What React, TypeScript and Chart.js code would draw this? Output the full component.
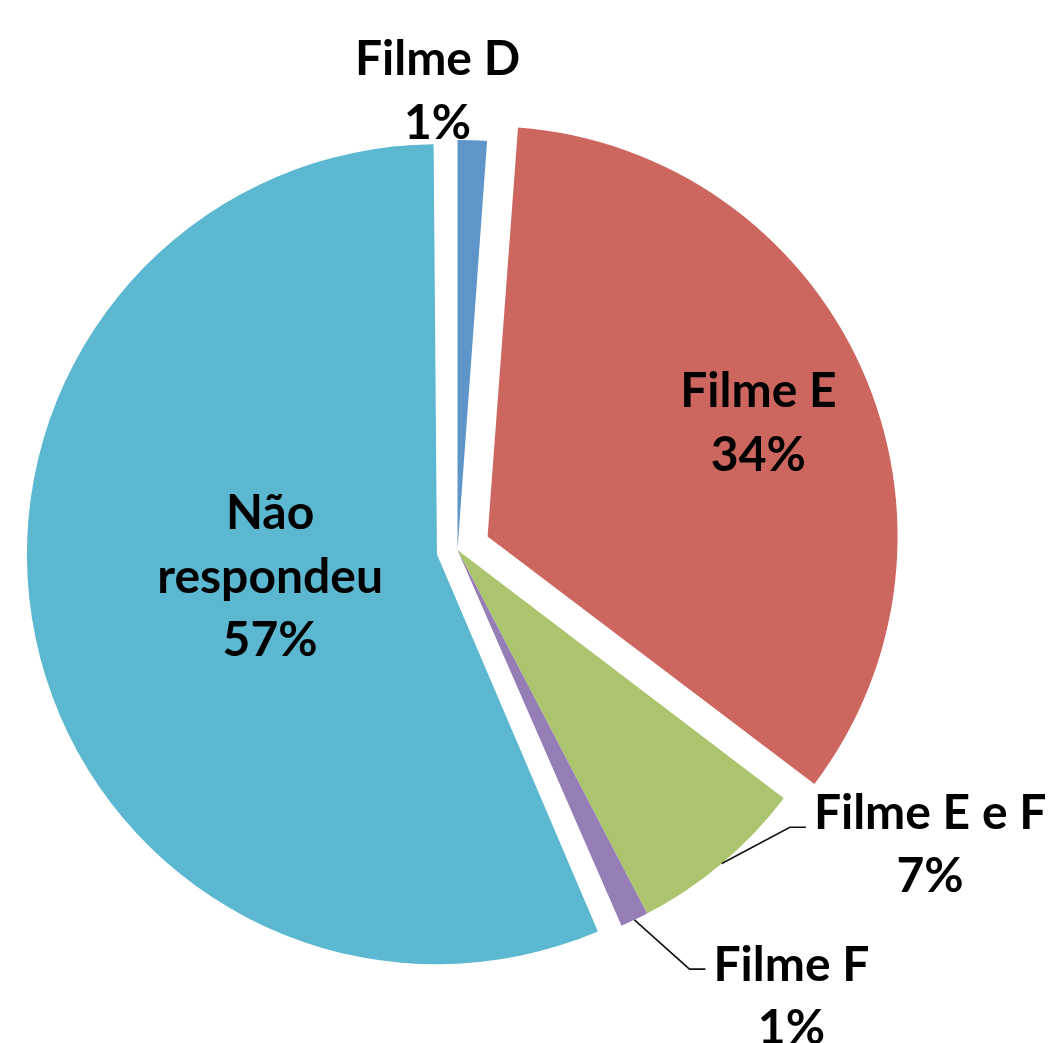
import React, { useEffect, useRef } from "react";
import { Chart, registerables } from "chart.js";

Chart.register(...registerables);

// ---- data ----
const categories = ["Filme D", "Filme E", "Filme E e F", "Filme F", "Não respondeu"];
const categoryLines = [["Filme D"], ["Filme E"], ["Filme E e F"], ["Filme F"], ["Não", "respondeu"]];
const values = [1.15, 34.2, 7.0, 1.1, 56.55];
const colors = ["#5F95C8", "#CD665F", "#ABC46D", "#957DB5", "#5BB8D0"];
const explode = [0, 33, 0, 0, 21]; // visual translation of exploded slices (px)

// label placement: angle delta from slice mid (deg), distance as fraction of radius
const labelAngleDelta = [-4.65, 4.08, -16.57, -10.28, -1.13];
const labelRadius = [1.082, 0.782, 1.379, 1.391, 0.469];
const labelLeader = [false, false, true, true, false];
const leaderDy = [0, 0, -1.3, -11.4, 0];

const RADIUS = 410;
const FONT = "bold 48px Lato, Carlito, Calibri, sans-serif";
const LINE_H = 63.5;

const labelPlugin = {
  id: "pieLabels",
  afterDatasetUpdate(chart: any, args: any) {
    const meta = args.meta;
    const base = meta.controller.outerRadius;
    meta.data.forEach((arc: any, i: number) => {
      const o = explode[i] || 0;
      if (!o) return;
      const circ = arc.endAngle - arc.startAngle;
      const fix = 1 - Math.sin(Math.min(Math.PI, circ));
      arc.outerRadius = base - o * fix;
    });
  },
  afterDatasetsDraw(chart: any) {
    const meta = chart.getDatasetMeta(0);
    const ctx: CanvasRenderingContext2D = chart.ctx;
    const R = meta.controller.outerRadius;
    const total = values.reduce((a, b) => a + b, 0);
    ctx.save();
    ctx.font = FONT;
    ctx.fillStyle = "#000000";
    ctx.textAlign = "center";
    ctx.textBaseline = "alphabetic";
    meta.data.forEach((arc: any, i: number) => {
      const cx = arc.x;
      const cy = arc.y;
      const mid = (arc.startAngle + arc.endAngle) / 2;
      const a = mid + (labelAngleDelta[i] * Math.PI) / 180;
      const ax = cx + Math.cos(a) * R * labelRadius[i];
      const ay = cy + Math.sin(a) * R * labelRadius[i];
      const pct = Math.round((values[i] / total) * 100) + "%";
      const lines = [...categoryLines[i], pct];
      const n = lines.length;
      lines.forEach((t, k) => {
        ctx.fillText(t, ax, ay + (k - (n - 1) / 2) * LINE_H);
      });
      if (labelLeader[i]) {
        const w = ctx.measureText(lines[0]).width;
        const left = ax - w / 2;
        const y0 = ay - ((n - 1) / 2) * LINE_H + leaderDy[i];
        const sx = cx + Math.cos(mid) * R;
        const sy = cy + Math.sin(mid) * R;
        ctx.beginPath();
        ctx.strokeStyle = "#111111";
        ctx.lineWidth = 1.6;
        ctx.moveTo(sx, sy);
        ctx.lineTo(left - 24, y0);
        ctx.lineTo(left - 8, y0);
        ctx.stroke();
      }
    });
    ctx.restore();
  },
};

export default function App() {
  const ref = useRef<HTMLCanvasElement | null>(null);
  useEffect(() => {
    if (!ref.current) return;
    const chart = new Chart(ref.current, {
      type: "pie",
      data: {
        labels: categories,
        datasets: [
          {
            data: values,
            backgroundColor: colors,
            borderWidth: 0,
            offset: explode.map((e) => e * 4),
            hoverOffset: 0,
          } as any,
        ],
      },
      options: {
        animation: false,
        responsive: true,
        maintainAspectRatio: false,
        events: [],
        radius: RADIUS,
        layout: { padding: { left: 0, right: 134, top: 57, bottom: 0 } },
        plugins: {
          legend: { display: false },
          tooltip: { enabled: false },
        },
      } as any,
      plugins: [labelPlugin],
    });
    return () => chart.destroy();
  }, []);
  return (
    <div style={{ position: "absolute", left: 0, top: 0, width: 1049, height: 1043, background: "#ffffff" }}>
      <canvas ref={ref} />
    </div>
  );
}
